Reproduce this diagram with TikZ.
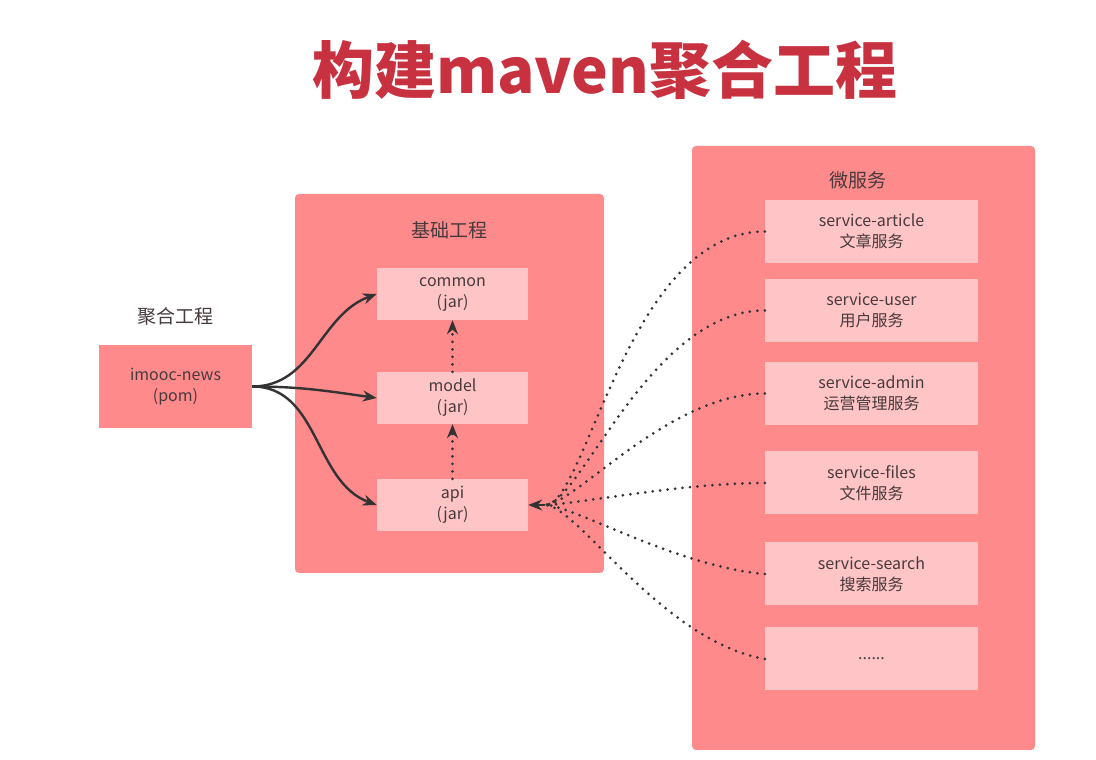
\documentclass[tikz,border=0pt]{standalone}
\usepackage{fontspec}
\setmainfont{Noto Sans CJK SC}
\usepackage{xcolor}
\usepackage{tikz}
\usetikzlibrary{arrows.meta,positioning}
\definecolor{mvred}{HTML}{FF8A8C}
\definecolor{mvpink}{HTML}{FFC4C5}
\definecolor{mvtitle}{HTML}{C8313F}
\definecolor{mvtext}{HTML}{473A3C}
\definecolor{mvline}{HTML}{333333}
\tikzset{
  mvgroup/.style={
    rectangle, rounded corners=4pt, fill=mvred, draw=none, inner sep=0pt
  },
  mvbox/.style={
    rectangle, fill=mvpink, draw=none,
    minimum width=151pt, minimum height=52pt,
    align=center, text=mvtext, font=\fontsize{16}{21}\selectfont, inner sep=0pt
  },
  mvsvc/.style={mvbox, minimum width=213pt, minimum height=63pt},
  mvlabel/.style={text=mvtext, font=\fontsize{19}{22}\selectfont, inner sep=0pt},
  mvarrow/.style={-{Stealth[length=14pt,width=11pt]}, line width=2.4pt, draw=mvline},
  mvdot/.style={line width=3pt, draw=mvline, line cap=round, dash pattern=on 0pt off 7.5pt},
  mvdep/.style={mvdot, -{Stealth[length=14pt,width=11pt]}},
  mvfan/.style={mvdot, in looseness=0.3},
}

\begin{document}
\begin{tikzpicture}[x=1pt, y=1pt]
  \useasboundingbox[fill=white] (0,0) rectangle (1096,760);
  \node (title) at (605,690) {\color{mvtitle}\bfseries\fontsize{62}{70}\selectfont 构建maven聚合工程};
  % containers
  \node (g1) [mvgroup, minimum width=309pt, minimum height=379pt] at (449.5,376.5) {};
  \node (g2) [mvgroup, minimum width=343pt, minimum height=604pt] at (863.5,312) {};
  \node (l1) [mvlabel] at (175,444) {聚合工程};
  \node (l2) [mvlabel] at (449,530) {基础工程};
  \node (l3) [mvlabel] at (858,580) {微服务};
  % modules
  \node (agg) [mvbox, fill=mvred, minimum width=153pt, minimum height=83pt] at (175.5,373.5) {imooc-news\\(pom)};
  \node (cmn) [mvbox] at (452.5,466) {common\\(jar)};
  \node (mdl) [mvbox] at (452.5,362) {model\\(jar)};
  \node (api) [mvbox] at (452.5,255) {api\\(jar)};
  \node (s1) [mvsvc] at (871.5,528.5) {service-article\\文章服务};
  \node (s2) [mvsvc] at (871.5,449.5) {service-user\\用户服务};
  \node (s3) [mvsvc] at (871.5,366.5) {service-admin\\运营管理服务};
  \node (s4) [mvsvc] at (871.5,277) {service-files\\文件服务};
  \node (s5) [mvsvc] at (871.5,186) {service-search\\搜索服务};
  \node (s6) [mvsvc] at (871.5,101) {......};
  \coordinate (hub) at ([xshift=17pt]api.east);
  % connectors
  \draw[mvarrow] (agg.east) to[out=0,in=200] (cmn.west);
  \draw[mvarrow] (agg.east) to[out=0,in=172] (mdl.west);
  \draw[mvarrow] (agg.east) to[out=0,in=160] (api.west);
  \draw[mvdep] (mdl.north) -- (cmn.south);
  \draw[mvdep] (api.north) -- (mdl.south);
  \draw[mvfan] (s1.west) to[out=180,in=0] (hub);
  \draw[mvfan] (s2.west) to[out=180,in=0] (hub);
  \draw[mvfan] (s3.west) to[out=180,in=0] (hub);
  \draw[mvfan] (s4.west) to[out=180,in=0] (hub);
  \draw[mvfan] (s5.west) to[out=175,in=0] (hub);
  \draw[mvfan] (s6.west) to[out=170,in=0] (hub);
  \draw[mvarrow] (hub) -- (api.east);
\end{tikzpicture}
\end{document}
